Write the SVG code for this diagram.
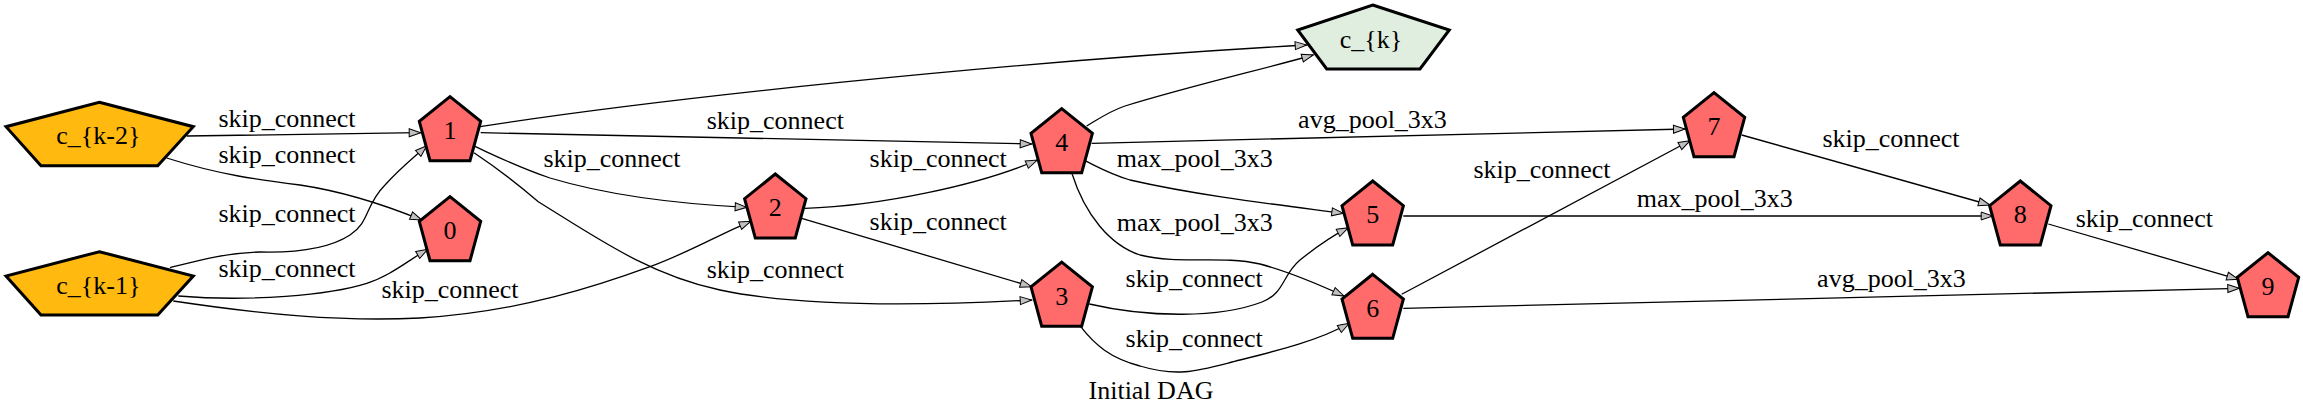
<svg xmlns="http://www.w3.org/2000/svg" xmlns:xlink="http://www.w3.org/1999/xlink" width="2303" height="419" viewBox="0 0 2303 419">
<style>
text{font-family:"Liberation Serif","Times New Roman",serif;font-size:26px;fill:#000;text-anchor:middle}
.e{fill:none;stroke:#000;stroke-width:1.3;marker-end:url(#ah)}
.n{stroke:#000;stroke-width:3;stroke-linejoin:miter}
.red{fill:#ff6a6a}
.inp{fill:#ffb90f}
.out{fill:#e0eee0}
</style>
<defs>
<marker id="ah" markerWidth="14" markerHeight="11" refX="12" refY="4.5" orient="auto" markerUnits="userSpaceOnUse" style="overflow:visible">
<path d="M0.5,0.5 L12,4.5 L0.5,8.5 Z" fill="#c0c0c0" stroke="#000" stroke-width="1"/>
</marker>
<polygon id="pent" points="0,-32 30.7,-7.3 20,32 -20,32 -30.7,-7.3"/>
</defs>
<rect width="2303" height="419" fill="#fff"/>
<g id="connectors">
<path class="e" d="M186.7,136 C300,135 360,133 420.7,132.7"/>
<text x="287" y="126.7">skip_connect</text>
<path class="e" d="M166.7,158 C220,175 260,180 300,185 C340,191 380,203 421.7,220"/>
<text x="287" y="162.7">skip_connect</text>
<path class="e" d="M170,267.7 C200,260 225,253 260,252 C300,253 330,248 350,235 C370,222 365,205 385,185 C400,168 414.7,156.7 426.7,145.7"/>
<text x="287" y="221.7">skip_connect</text>
<path class="e" d="M178.3,296 C250,302 330,295 366.7,283.3 C390,276 408,260.5 427.7,249.3"/>
<text x="287" y="276.7">skip_connect</text>
<path class="e" d="M173.3,301 C260,314 340,322 420,318 C520,312 600,285 650,266.7 C690,252 720,234 750.7,221.3"/>
<text x="450" y="298.3">skip_connect</text>
<path class="e" d="M480,126.7 C650,100 1000,62 1306.7,45"/>
<path class="e" d="M480.7,132.7 C700,136 900,141 1031.7,144"/>
<text x="775.3" y="129.3">skip_connect</text>
<path class="e" d="M473.3,145.7 C500,158 520,168 550,178 C610,196 680,204 746.7,207.3"/>
<text x="612" y="166.7">skip_connect</text>
<path class="e" d="M474,152.7 C500,170 520,186 538.3,201.7 C600,240 650,275 720,290 C800,307 920,306 1031.7,300"/>
<text x="775.3" y="277.7">skip_connect</text>
<path class="e" d="M805,208.3 C880,206 980,185 1037.3,160"/>
<text x="938.2" y="166.7">skip_connect</text>
<path class="e" d="M801.7,218.3 L1031.7,286.7"/>
<text x="938.2" y="230">skip_connect</text>
<path class="e" d="M1086.7,126 C1100,118 1110,111 1125,106 C1190,86 1260,70 1313.3,55"/>
<path class="e" d="M1091.7,143.3 C1300,138 1500,133 1685,129"/>
<text x="1372.5" y="127.7">avg_pool_3x3</text>
<path class="e" d="M1085,160.7 C1100,168 1110,174 1130,180 C1200,196 1280,205 1343.3,213.3"/>
<text x="1194.7" y="166.7">max_pool_3x3</text>
<path class="e" d="M1071.7,172.7 C1085,215 1110,245 1140,255 C1180,265 1220,255 1260,264 C1290,272 1320,285 1344,296"/>
<text x="1194.7" y="231">max_pool_3x3</text>
<path class="e" d="M1089.3,304 C1150,318 1220,318 1262,302 C1285,293 1282,275 1300,260 C1315,248 1332,236 1348.3,227.7"/>
<text x="1194.2" y="287.3">skip_connect</text>
<path class="e" d="M1080.7,326.7 C1095,345 1110,358 1140,366 C1180,378 1200,370 1240,360 C1280,350 1320,340 1349.3,323.3"/>
<text x="1194.2" y="346.7">skip_connect</text>
<path class="e" d="M1403.3,216 L1992.7,216"/>
<text x="1714.7" y="206.7">max_pool_3x3</text>
<path class="e" d="M1401.7,294.3 L1690,140.7"/>
<text x="1542" y="178.3">skip_connect</text>
<path class="e" d="M1403.3,308.3 L2239.3,288.3"/>
<text x="1891.5" y="286.7">avg_pool_3x3</text>
<path class="e" d="M1741.7,135 L1990,205"/>
<text x="1891" y="146.7">skip_connect</text>
<path class="e" d="M2048.3,224 L2238.3,279.3"/>
<text x="2144.3" y="226.7">skip_connect</text>
</g>
<g id="node-ck2"><polygon class="n inp" points="99.3,102.3 193.3,126.7 157.7,165.7 41,165.7 6,126.7"/><text x="98.3" y="144">c_{k-2}</text></g>
<g id="node-ck1"><polygon class="n inp" points="99.3,251.7 193.3,276 157.7,315 41,315 6,276"/><text x="98.3" y="294">c_{k-1}</text></g>
<g id="node-ck"><polygon class="n out" points="1372.7,5 1449.3,30 1420,69 1326.7,69 1297.7,30"/><text x="1371" y="47.5">c_{k}</text></g>
<g id="node-0"><use href="#pent" x="450" y="228.7" class="n red"/><text x="450" y="239">0</text></g>
<g id="node-1"><use href="#pent" x="450" y="128.7" class="n red"/><text x="450" y="139">1</text></g>
<g id="node-2"><use href="#pent" x="775.3" y="206" class="n red"/><text x="775.3" y="216.3">2</text></g>
<g id="node-3"><use href="#pent" x="1061.7" y="294.2" class="n red"/><text x="1061.7" y="304.5">3</text></g>
<g id="node-4"><use href="#pent" x="1061.7" y="140.7" class="n red"/><text x="1061.7" y="151">4</text></g>
<g id="node-5"><use href="#pent" x="1372.7" y="213" class="n red"/><text x="1372.7" y="223.3">5</text></g>
<g id="node-6"><use href="#pent" x="1372.7" y="306.3" class="n red"/><text x="1372.7" y="316.6">6</text></g>
<g id="node-7"><use href="#pent" x="1714" y="124.7" class="n red"/><text x="1714" y="135">7</text></g>
<g id="node-8"><use href="#pent" x="2020.3" y="213" class="n red"/><text x="2020.3" y="223.3">8</text></g>
<g id="node-9"><use href="#pent" x="2268" y="284.7" class="n red"/><text x="2268" y="295">9</text></g>
<text x="1151" y="399.3">Initial DAG</text>
</svg>
